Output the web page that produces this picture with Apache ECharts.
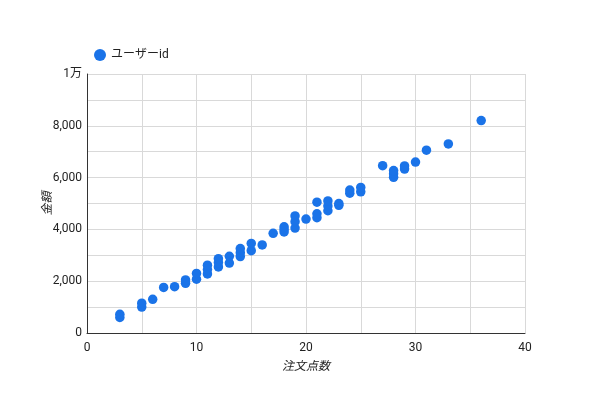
<!DOCTYPE html>
<html>
<head>
<meta charset="utf-8">
<script src="https://cdn.jsdelivr.net/npm/echarts@6/dist/echarts.min.js"></script>
<style>html,body{margin:0;padding:0;background:#fff}#c{width:600px;height:416px}</style>
</head>
<body>
<div id="c"></div>
<script>
var seriesName = 'ユーザーid';
var xAxisName = '注文点数';
var yAxisName = '金額';
var orderCounts = [3,3,5,5,6,7,8,9,9,10,10,11,11,11,12,12,12,13,13,14,14,14,15,15,16,17,18,18,18,19,19,19,20,21,21,21,22,22,22,23,23,24,24,25,25,27,28,28,28,29,29,30,31,33,36];
var amounts = [600,720,1000,1150,1300,1760,1790,1920,2050,2080,2300,2280,2450,2620,2550,2720,2870,2700,2960,2950,3100,3260,3180,3460,3400,3850,3900,4000,4100,4050,4300,4520,4400,4450,4600,5050,4720,4900,5100,4930,5000,5400,5520,5450,5620,6460,6010,6150,6270,6330,6450,6600,7060,7300,8200];
var points = orderCounts.map(function(x, i){ return [x, amounts[i]]; });

var chart = echarts.init(document.getElementById('c'));
var font = 'Roboto, "Noto Sans CJK JP", sans-serif';
chart.setOption({
  animation: false,
  textStyle: { fontFamily: font },
  legend: {
    left: 89, top: 44,
    itemWidth: 12, itemHeight: 12, icon: 'circle',
    textStyle: { fontSize: 12, color: '#222', fontFamily: font },
    data: [seriesName]
  },
  grid: { left: 87, right: 75, top: 74, bottom: 83 },
  xAxis: {
    type: 'value', min: 0, max: 40, interval: 10,
    name: xAxisName, nameLocation: 'middle', nameGap: 28,
    nameTextStyle: { fontStyle: 'italic', fontSize: 12, color: '#222', fontFamily: font },
    axisLine: { show: true, lineStyle: { color: '#333', width: 1 } },
    axisTick: { show: false },
    axisLabel: { color: '#222', fontSize: 12, margin: 9 },
    splitLine: { show: true, lineStyle: { color: '#d9d9d9' } },
    minorTick: { show: false, splitNumber: 2 },
    minorSplitLine: { show: true, lineStyle: { color: '#d9d9d9' } }
  },
  yAxis: {
    type: 'value', min: 0, max: 10000, interval: 2000,
    name: yAxisName, nameLocation: 'middle', nameGap: 33, nameRotate: 90,
    nameMoveOverlap: false,
    nameTextStyle: { fontStyle: 'italic', fontSize: 12, color: '#222', fontFamily: font },
    axisLine: { show: true, lineStyle: { color: '#333', width: 1 } },
    axisTick: { show: false },
    axisLabel: {
      color: '#222', fontSize: 12, margin: 5,
      formatter: function (v) { return v === 10000 ? '1万' : v.toLocaleString('en-US'); }
    },
    splitLine: { show: true, lineStyle: { color: '#d9d9d9' } },
    minorTick: { show: false, splitNumber: 2 },
    minorSplitLine: { show: true, lineStyle: { color: '#d9d9d9' } }
  },
  series: [{
    name: seriesName, type: 'scatter', data: points,
    symbolSize: 9.5,
    itemStyle: { color: '#1a73e8', opacity: 1 }
  }]
});
</script>
</body>
</html>
